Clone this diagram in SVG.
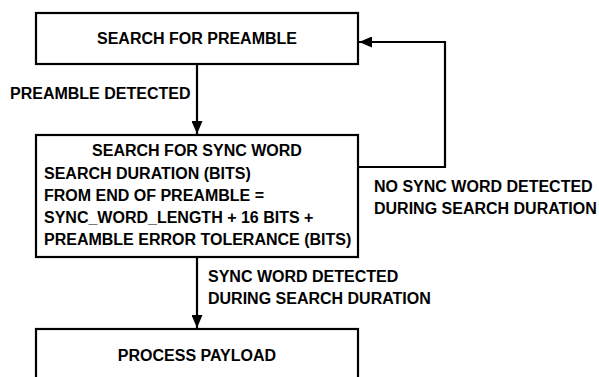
<svg xmlns="http://www.w3.org/2000/svg" width="599" height="377" viewBox="0 0 599 377">
<style>
.box{fill:#fff;stroke:#000;stroke-width:2.2}
.ln{fill:none;stroke:#000;stroke-width:2.2}
text{font-family:"Liberation Sans",Arial,sans-serif;font-weight:bold;font-size:16px;fill:#000}
.c{text-anchor:middle}
</style>
<defs>
<marker id="ah" markerUnits="userSpaceOnUse" markerWidth="14" markerHeight="11" refX="13" refY="5.5" orient="auto">
<path d="M0,0 L13,5.5 L0,11 Z" fill="#000"/>
</marker>
</defs>
<rect width="599" height="377" fill="#fff"/>
<g id="n1">
<rect class="box" x="36" y="13" width="322" height="51"/>
<text class="c" x="197" y="44">SEARCH FOR PREAMBLE</text>
</g>
<g id="n2">
<rect class="box" x="36" y="135" width="322" height="122"/>
<text class="c" x="197" y="156">SEARCH FOR SYNC WORD</text>
<text x="44" y="179">SEARCH DURATION (BITS)</text>
<text x="44" y="201">FROM END OF PREAMBLE =</text>
<text x="44" y="223">SYNC_WORD_LENGTH + 16 BITS +</text>
<text x="44" y="245">PREAMBLE ERROR TOLERANCE (BITS)</text>
</g>
<g id="n3">
<rect class="box" x="36" y="329" width="322" height="60"/>
<text class="c" x="197" y="361">PROCESS PAYLOAD</text>
</g>
<g id="connectors">
<line class="ln" x1="197" y1="64" x2="197" y2="134" marker-end="url(#ah)"/>
<line class="ln" x1="197" y1="257" x2="197" y2="328" marker-end="url(#ah)"/>
<polyline class="ln" points="358,167 445,167 445,42 359,42" marker-end="url(#ah)"/>
<text x="10" y="99">PREAMBLE DETECTED</text>
<text x="374" y="192">NO SYNC WORD DETECTED</text>
<text x="374" y="214">DURING SEARCH DURATION</text>
<text x="208" y="282">SYNC WORD DETECTED</text>
<text x="208" y="304">DURING SEARCH DURATION</text>
</g>
</svg>
